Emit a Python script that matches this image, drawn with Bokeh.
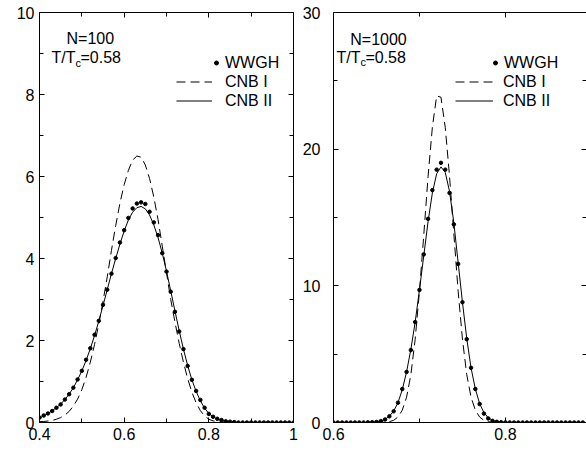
from bokeh.plotting import figure
from bokeh.layouts import row
from bokeh.models import (FixedTicker, LinearAxis, Range1d, Label, Legend, LegendItem,
                          CustomLabelingPolicy)
from bokeh.embed import file_html
from bokeh.resources import INLINE

FONT = "Liberation Sans"

# ---------------- data: N = 100 ----------------
x_n100 = [0.40, 0.41, 0.42, 0.43, 0.44, 0.45, 0.46, 0.47, 0.48, 0.49,
          0.50, 0.51, 0.52, 0.53, 0.54, 0.55, 0.56, 0.57, 0.58, 0.59,
          0.60, 0.61, 0.62, 0.63, 0.64, 0.65, 0.66, 0.67, 0.68, 0.69,
          0.70, 0.71, 0.72, 0.73, 0.74, 0.75, 0.76, 0.77, 0.78, 0.79,
          0.80, 0.81, 0.82, 0.83, 0.84, 0.85, 0.86, 0.87, 0.88, 0.89,
          0.90, 0.91, 0.92, 0.93, 0.94, 0.95, 0.96, 0.97, 0.98, 0.99, 1.00]
wwgh_n100 = [0.12, 0.17, 0.22, 0.28, 0.36, 0.44, 0.56, 0.69, 0.85, 1.05,
             1.26, 1.53, 1.81, 2.14, 2.48, 2.87, 3.24, 3.63, 4.01, 4.39,
             4.69, 4.99, 5.22, 5.34, 5.37, 5.33, 5.14, 4.88, 4.57, 4.13,
             3.68, 3.19, 2.70, 2.22, 1.79, 1.38, 1.04, 0.77, 0.55, 0.36,
             0.21, 0.14, 0.09, 0.06, 0.03, 0.02, 0.01, 0.0, 0.0, 0.0,
             0.0, 0.0, 0.0, 0.0, 0.0, 0.0, 0.0, 0.0, 0.0, 0.0, 0.0]
cnb1_n100 = [0.02, 0.025, 0.035, 0.05, 0.08, 0.12, 0.18, 0.27, 0.40, 0.57,
             0.80, 1.10, 1.47, 1.90, 2.40, 2.95, 3.55, 4.20, 4.80, 5.35,
             5.80, 6.15, 6.40, 6.50, 6.47, 6.28, 5.95, 5.50, 4.95, 4.30,
             3.65, 3.00, 2.45, 1.93, 1.47, 1.07, 0.74, 0.48, 0.29, 0.16,
             0.08, 0.04, 0.02, 0.01, 0.0, 0.0, 0.0, 0.0, 0.0, 0.0,
             0.0, 0.0, 0.0, 0.0, 0.0, 0.0, 0.0, 0.0, 0.0, 0.0, 0.0]
cnb2_n100 = [0.11, 0.16, 0.22, 0.29, 0.36, 0.45, 0.56, 0.69, 0.85, 1.04,
             1.26, 1.51, 1.80, 2.12, 2.47, 2.85, 3.24, 3.63, 4.00, 4.35,
             4.67, 4.94, 5.13, 5.24, 5.27, 5.21, 5.06, 4.82, 4.51, 4.13,
             3.69, 3.21, 2.72, 2.24, 1.79, 1.39, 1.04, 0.76, 0.53, 0.35,
             0.22, 0.14, 0.08, 0.05, 0.03, 0.015, 0.01, 0.0, 0.0, 0.0,
             0.0, 0.0, 0.0, 0.0, 0.0, 0.0, 0.0, 0.0, 0.0, 0.0, 0.0]

# ---------------- data: N = 1000 ----------------
x_n1000 = [0.600, 0.605, 0.610, 0.615, 0.620, 0.625, 0.630, 0.635, 0.640, 0.645,
           0.650, 0.655, 0.660, 0.665, 0.670, 0.675, 0.680, 0.685, 0.690, 0.695,
           0.700, 0.705, 0.710, 0.715, 0.720, 0.725, 0.730, 0.735, 0.740, 0.745,
           0.750, 0.755, 0.760, 0.765, 0.770, 0.775, 0.780, 0.785, 0.790, 0.795,
           0.800, 0.805, 0.810, 0.815, 0.820, 0.825, 0.830, 0.835, 0.840, 0.845,
           0.850, 0.855, 0.860, 0.865, 0.870, 0.875, 0.880, 0.885, 0.890]
wwgh_n1000 = [0.0, 0.0, 0.0, 0.0, 0.0, 0.0, 0.0, 0.0, 0.01, 0.02,
              0.04, 0.10, 0.22, 0.45, 0.82, 1.45, 2.45, 3.70, 5.30, 7.35,
              9.70, 12.30, 14.90, 17.00, 18.50, 19.00, 18.50, 16.80, 14.50, 11.60,
              8.80, 6.10, 4.00, 2.45, 1.35, 0.65, 0.30, 0.12, 0.05, 0.02,
              0.01, 0.0, 0.0, 0.0, 0.0, 0.0, 0.0, 0.0, 0.0, 0.0,
              0.0, 0.0, 0.0, 0.0, 0.0, 0.0, 0.0, 0.0, 0.0]
cnb1_n1000 = [0.0, 0.0, 0.0, 0.0, 0.0, 0.0, 0.0, 0.0, 0.0, 0.0,
              0.0, 0.01, 0.02, 0.06, 0.16, 0.40, 0.90, 1.85, 3.50, 6.10,
              9.60, 13.70, 18.00, 21.60, 23.90, 23.80, 21.60, 18.00, 13.80, 9.60,
              6.10, 3.50, 1.85, 0.90, 0.40, 0.16, 0.06, 0.02, 0.01, 0.0,
              0.0, 0.0, 0.0, 0.0, 0.0, 0.0, 0.0, 0.0, 0.0, 0.0,
              0.0, 0.0, 0.0, 0.0, 0.0, 0.0, 0.0, 0.0, 0.0]
cnb2_n1000 = [0.0, 0.0, 0.0, 0.0, 0.0, 0.0, 0.0, 0.0, 0.01, 0.02,
              0.05, 0.11, 0.23, 0.46, 0.84, 1.45, 2.40, 3.70, 5.35, 7.35,
              9.70, 12.20, 14.70, 16.80, 18.20, 18.70, 18.30, 16.90, 14.60, 11.70,
              8.80, 6.15, 4.00, 2.45, 1.38, 0.72, 0.35, 0.15, 0.06, 0.02,
              0.0, 0.0, 0.0, 0.0, 0.0, 0.0, 0.0, 0.0, 0.0, 0.0,
              0.0, 0.0, 0.0, 0.0, 0.0, 0.0, 0.0, 0.0, 0.0]

series_labels = ["WWGH", "CNB I", "CNB II"]
n_labels = ["N=100", "N=1000"]
temp_label = ["T/T", "c", "=0.58"]

left_xticks, left_xminor = [0.4, 0.6, 0.8, 1.0], [0.5, 0.7, 0.9]
left_yticks, left_yminor = [0, 2, 4, 6, 8, 10], [1, 3, 5, 7, 9]
right_xticks, right_xminor = [0.6, 0.8], [0.7, 0.9]
right_yticks, right_yminor = [0, 10, 20, 30], [5, 15, 25]

NO_LABELS = CustomLabelingPolicy(code="""
try {
  for (const i of Array.from(indices)) { indices.unset(i) }
  return indices
} catch (e) {
  return indices
}
""")


def style_axis(ax, ticks, minor, labels=True, line=True, standoff=5, overrides=None):
    ax.ticker = FixedTicker(ticks=ticks, minor_ticks=minor)
    ax.major_tick_in = 5
    ax.major_tick_out = 0
    ax.minor_tick_in = 4
    ax.minor_tick_out = 0
    ax.major_tick_line_color = "black"
    ax.minor_tick_line_color = "black"
    ax.axis_line_color = "black" if line else None
    ax.axis_line_width = 1
    if labels:
        ax.major_label_text_font = FONT
        ax.major_label_text_font_size = "16px"
        ax.major_label_text_color = "black"
        ax.major_label_standoff = standoff
        if overrides:
            ax.major_label_overrides = overrides
    else:
        ax.major_label_text_font_size = "0px"
        ax.major_label_standoff = 0
        ax.major_label_policy = NO_LABELS


def add_text(p, x, y, text, size="16px", x_offset=0, y_offset=0):
    p.add_layout(Label(x=x, y=y, x_offset=x_offset, y_offset=y_offset, text=text,
                       text_font=FONT, text_font_size=size, text_color="black",
                       text_baseline="middle", text_align="left"))


def make_panel(width, x, wwgh, cnb1, cnb2, xr, yr, xt, xm, yt, ym, ystandoff,
               min_left, min_right, right_line, xover, nlab, nlab_pos, tlab_pos,
               leg_dot_loc, leg_line_loc, leg_dot_w, leg_line_w, leg_line_standoff):
    p = figure(width=width, height=450, output_backend="svg", toolbar_location=None,
               x_range=Range1d(*xr), y_range=Range1d(*yr),
               min_border_left=min_left, min_border_right=min_right,
               min_border_top=12, min_border_bottom=28)
    p.outline_line_color = None
    p.grid.visible = False
    p.background_fill_color = "white"
    p.border_fill_color = "white"

    style_axis(p.xaxis[0], xt, xm, standoff=5, overrides=xover)
    style_axis(p.yaxis[0], yt, ym, standoff=ystandoff)
    top = LinearAxis()
    style_axis(top, xt, xm, labels=False)
    p.add_layout(top, "above")
    right = LinearAxis()
    style_axis(right, yt, ym, labels=False, line=right_line)
    p.add_layout(right, "right")

    r_cnb1 = p.line(x, cnb1, line_color="black", line_width=1, line_dash="9 5")
    r_cnb2 = p.line(x, cnb2, line_color="black", line_width=1)
    r_dots = p.scatter(x, wwgh, size=3.5, marker="circle", fill_color="black", line_color="black")

    common = dict(glyph_height=19, label_height=19, padding=0, margin=0, spacing=0,
                  border_line_color=None, background_fill_alpha=0,
                  label_text_font=FONT, label_text_font_size="16px",
                  label_text_color="black")
    leg_dot = Legend(items=[LegendItem(label=series_labels[0], renderers=[r_dots])],
                     location=leg_dot_loc, glyph_width=leg_dot_w, label_standoff=4, **common)
    leg_line = Legend(items=[LegendItem(label=series_labels[1], renderers=[r_cnb1]),
                             LegendItem(label=series_labels[2], renderers=[r_cnb2])],
                      location=leg_line_loc, glyph_width=leg_line_w,
                      label_standoff=leg_line_standoff, **common)
    p.add_layout(leg_dot)
    p.add_layout(leg_line)

    add_text(p, nlab_pos[0], nlab_pos[1], nlab)
    tx, ty = tlab_pos
    add_text(p, tx, ty, temp_label[0])
    add_text(p, tx, ty, temp_label[1], size="11px", x_offset=24, y_offset=-5)
    add_text(p, tx, ty, temp_label[2], x_offset=29)
    return p


p1 = make_panel(299, x_n100, wwgh_n100, cnb1_n100, cnb2_n100,
                (0.4, 1.0), (0, 10), left_xticks, left_xminor, left_yticks, left_yminor, 5,
                39, 6, True, {1.0: "1", 1: "1"}, n_labels[0], (0.4638, 9.37), (0.4283, 8.90),
                (172, 350), (137, 312), 10, 36, 13)
p2 = make_panel(287, x_n1000, wwgh_n1000, cnb1_n1000, cnb2_n1000,
                (0.6, 0.8943), (0, 30), right_xticks, right_xminor, right_yticks, right_yminor, 13,
                31, 0, False, None, n_labels[1], (0.6195, 28.02), (0.6034, 26.71),
                (157, 350), (122, 312), 10, 38, 10)

layout = row(p1, p2)
open("out.html", "w").write(file_html(layout, INLINE))
